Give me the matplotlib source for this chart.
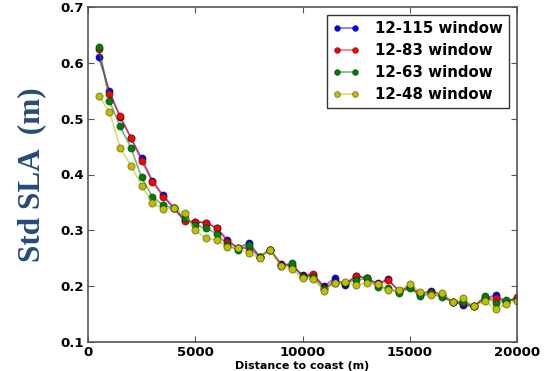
import matplotlib
matplotlib.use("Agg")
import matplotlib.pyplot as plt

distance = [500, 1000, 1500, 2000, 2500, 3000, 3500, 4000, 4500, 5000,
            5500, 6000, 6500, 7000, 7500, 8000, 8500, 9000, 9500, 10000,
            10500, 11000, 11500, 12000, 12500, 13000, 13500, 14000, 14500, 15000,
            15500, 16000, 16500, 17000, 17500, 18000, 18500, 19000, 19500, 20000]

w115 = [0.610, 0.550, 0.503, 0.466, 0.429, 0.389, 0.363, 0.340, 0.318, 0.315,
        0.314, 0.304, 0.283, 0.268, 0.278, 0.253, 0.265, 0.240, 0.237, 0.220,
        0.220, 0.200, 0.214, 0.202, 0.219, 0.214, 0.205, 0.212, 0.191, 0.199,
        0.186, 0.192, 0.184, 0.172, 0.166, 0.164, 0.178, 0.184, 0.172, 0.178]
w83 = [0.624, 0.544, 0.504, 0.466, 0.424, 0.387, 0.360, 0.340, 0.316, 0.315,
       0.314, 0.304, 0.280, 0.268, 0.268, 0.253, 0.265, 0.238, 0.236, 0.219,
       0.222, 0.197, 0.208, 0.206, 0.218, 0.214, 0.204, 0.211, 0.191, 0.199,
       0.186, 0.189, 0.184, 0.172, 0.170, 0.164, 0.178, 0.178, 0.172, 0.181]
w63 = [0.629, 0.532, 0.486, 0.448, 0.395, 0.360, 0.345, 0.340, 0.322, 0.310,
       0.304, 0.294, 0.274, 0.264, 0.274, 0.253, 0.265, 0.237, 0.241, 0.217,
       0.217, 0.195, 0.206, 0.206, 0.211, 0.214, 0.199, 0.196, 0.188, 0.196,
       0.182, 0.187, 0.180, 0.172, 0.172, 0.164, 0.182, 0.170, 0.175, 0.176]
w48 = [0.541, 0.512, 0.448, 0.416, 0.380, 0.349, 0.338, 0.340, 0.331, 0.300,
       0.286, 0.283, 0.270, 0.268, 0.259, 0.251, 0.265, 0.236, 0.230, 0.214,
       0.212, 0.192, 0.206, 0.207, 0.202, 0.206, 0.204, 0.194, 0.193, 0.204,
       0.190, 0.184, 0.188, 0.172, 0.178, 0.164, 0.173, 0.159, 0.168, 0.173]

labels = ["12-115 window", "12-83 window", "12-63 window", "12-48 window"]
colors = [(0, 0, 1), (1, 0, 0), (0, 0.5, 0), (0.75, 0.75, 0)]
xticks = [0, 5000, 10000, 15000, 20000]
yticks = [0.1, 0.2, 0.3, 0.4, 0.5, 0.6, 0.7]

fig = plt.figure(figsize=(5.48, 3.71), dpi=100)
ax = fig.add_axes([88/548, 29/371, 429/548, 335/371])

for ys, lab, c in zip([w115, w83, w63, w48], labels, colors):
    ax.plot(distance, ys, '-o', color=(c[0], c[1], c[2], 0.55), lw=1.2,
            markerfacecolor=c, markeredgecolor=(0, 0, 0, 0.45),
            markeredgewidth=0.6, markersize=5.2, label=lab)

ax.set_xlim(0, 20000)
ax.set_ylim(0.1, 0.7)
ax.set_xticks(xticks)
ax.set_yticks(yticks)
ax.set_xticklabels([str(v) for v in xticks], fontsize=9.5, fontweight='bold')
ax.set_yticklabels([f"{v:.1f}" for v in yticks], fontsize=9.5, fontweight='bold')
ax.tick_params(direction='in', top=True, right=True, length=4, width=0.8,
               color='#555555', pad=3)
for s in ax.spines.values():
    s.set_color('#555555')
    s.set_linewidth(1.2)

ax.set_xlabel("Distance to coast (m)", fontsize=8, fontweight='bold', labelpad=1)
ax.set_ylabel("Std SLA  (m)", fontsize=22.5, fontweight='bold',
              family='Liberation Serif', color='#27497c', labelpad=10)

leg = ax.legend(loc='upper right', numpoints=2, fancybox=False, framealpha=1,
                prop={'weight': 'bold', 'size': 10.8}, handlelength=1.8,
                borderaxespad=0.55, labelspacing=0.47, handletextpad=1.0,
                borderpad=0.4)
for h in leg.legend_handles:
    h.set_markersize(4.2)
leg.get_frame().set_edgecolor('#333333')
leg.get_frame().set_linewidth(1.0)

fig.savefig("out.png", dpi=100)
